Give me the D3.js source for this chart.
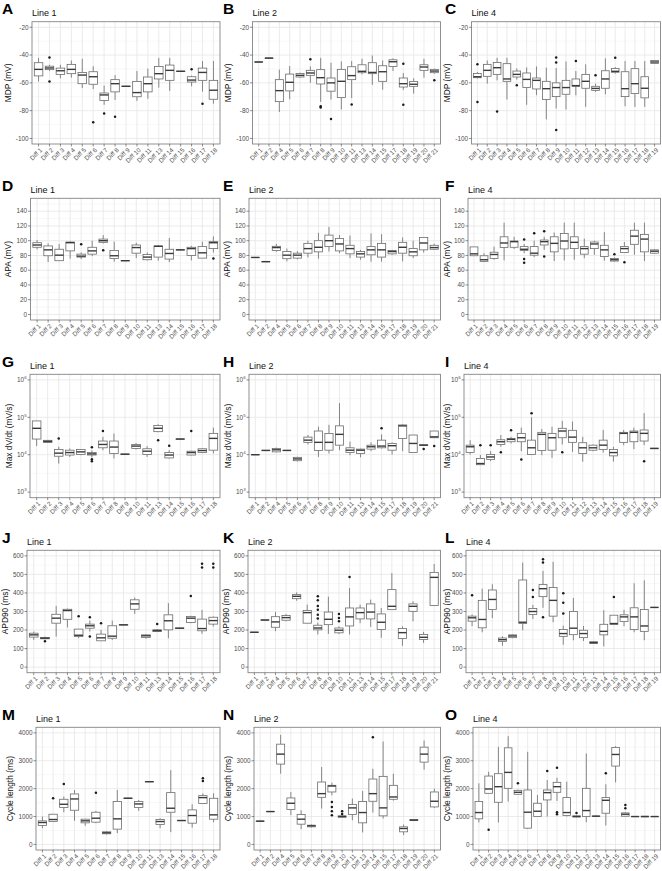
<!DOCTYPE html>
<html><head><meta charset="utf-8">
<script src="https://cdn.jsdelivr.net/npm/d3@7"></script>
<style>
body{margin:0;background:#fff}
svg{display:block;font-family:"Liberation Sans",Arial,Helvetica,sans-serif}
</style>
</head><body>
<svg id="chart" width="662" height="871"></svg>
<script>
// ---------------- categories ----------------
const catsLine1 = ["Diff 1","Diff 2","Diff 3","Diff 4","Diff 5","Diff 6","Diff 7","Diff 8","Diff 9","Diff 10","Diff 11","Diff 13","Diff 14","Diff 15","Diff 16","Diff 17","Diff 18"];
const catsLine2 = ["Diff 1","Diff 2","Diff 4","Diff 5","Diff 6","Diff 7","Diff 8","Diff 9","Diff 10","Diff 11","Diff 13","Diff 14","Diff 15","Diff 17","Diff 18","Diff 19","Diff 20","Diff 21"];
const catsLine4 = ["Diff 1","Diff 2","Diff 3","Diff 4","Diff 5","Diff 6","Diff 7","Diff 8","Diff 9","Diff 10","Diff 11","Diff 12","Diff 13","Diff 14","Diff 15","Diff 16","Diff 17","Diff 18","Diff 19"];

// ---------------- tick labels ----------------
const mdpTicks = [-100,-80,-60,-40,-20];
const apaTicks = [0,20,40,60,80,100,120,140];
const dvdtTicks = [1e3,1e4,1e5,1e6];
const apdTicks = [0,100,200,300,400,500,600];
const cycTicks = [0,1000,2000,3000,4000];

// ---------------- box stats: [low whisker, q1, median, q3, high whisker] ----------------
const mdpL1 = [[-59,-55,-50.3,-45.5,-42],[-51.5,-50.5,-49.3,-48,-47],[-56.7,-53.9,-51.3,-49.4,-47],[-56.3,-53.4,-50.3,-46.7,-43.9],[-63.7,-60.6,-54.4,-52.5,-42.7],[-64.4,-61,-55.6,-52,-48],[-75.8,-72.7,-68.7,-67.3,-62],[-72.3,-66.5,-60.6,-57.7,-54.4],[-62.8,-62.6,-62.5,-62.4,-62.2],[-73,-70,-67,-59,-51.5],[-71.5,-66.5,-60.6,-55.8,-49.8],[-63.4,-57.2,-53.4,-48.2,-42],[-65.8,-58.2,-51,-47.2,-42],[-51.9,-51.8,-51.7,-51.6,-51.5],[-62.5,-59.4,-58,-55.6,-54.8],[-66.3,-58.2,-52.5,-49.4,-44.3],[-75,-71.8,-65.3,-58.2,-44.3]];
const mdpL1Out = [[],[-41.7,-59],[],[],[],[-88.3],[-82],[-84.4],[],[],[],[],[],[],[-50.3],[-75],[]];

const mdpL2 = [[-45.2,-45.1,-45,-44.9,-44.8],[-42.4,-42.3,-42.2,-42.1,-42],[-81,-73.5,-65.6,-57.7,-50.5],[-71.8,-65.8,-59.6,-53.7,-47.9],[-56.3,-55.8,-54.6,-53.2,-52.7],[-60,-54.6,-52.9,-51,-48.2],[-73.7,-60.8,-56.3,-50.5,-42],[-72,-66,-60,-56.5,-45.5],[-79.2,-70.6,-58.9,-50.3,-44.6],[-71,-57.7,-54.8,-48.4,-44.3],[-53.9,-52.7,-51.7,-47,-42.7],[-61.5,-53.4,-52.5,-45.5,-40.3],[-64.9,-58.9,-52,-47.7,-43.9],[-51.5,-48.2,-44.8,-43.4,-42.4],[-65,-63,-60.6,-56.5,-53],[-67.7,-62.5,-61,-59,-56.7],[-56.3,-51,-48.6,-47,-42.7],[-53.4,-52.7,-51.5,-50.3,-49.8]];
const mdpL2Out = [[],[],[],[],[],[-43],[-76.8,-77.8],[-86],[],[-75.6],[],[],[],[],[-46.3,-75.8],[],[],[-58.2]];

const mdpL4 = [[-56.8,-56.3,-55.6,-53.2,-52.2],[-60.6,-55.3,-51,-46.7,-43.9],[-58.2,-53.9,-49.1,-45.3,-42],[-72,-58.9,-57.2,-46.2,-42],[-57.7,-55.8,-53.9,-51.5,-49.6],[-75.8,-63.4,-57.5,-52.9,-48.9],[-68.9,-64.4,-58.2,-56.5,-48.2],[-86.3,-72,-64.2,-58.9,-49.1],[-78.5,-69.9,-63.4,-60,-49.4],[-79.2,-68.2,-63.4,-58.2,-44.6],[-69,-62.5,-62,-57.2,-51.5],[-77.3,-63.9,-58.9,-53.9,-46.7],[-66.5,-65.4,-64,-62.5,-60.6],[-68.2,-63.9,-57.2,-51.3,-42.4],[-53.4,-52.4,-51.7,-49.6,-48.6],[-76.8,-69.9,-64.2,-52,-44.3],[-77.3,-67.7,-60.6,-49.8,-44.3],[-77.3,-70.8,-63.9,-55.6,-44.3],[-46.2,-46,-45,-43.9,-43.6]];
const mdpL4Out = [[-46.7,-73.7],[],[-80.6],[],[-61.8],[],[],[],[-41.7,-45.3,-94],[],[-44.3],[],[-54.6],[],[-42],[],[],[],[]];

const apaL1 = [[88.4,91.1,94.2,97.3,100.9],[71.1,79.6,87.6,92.9,96.4],[72.9,72.9,80.4,88.4,95.6],[75.6,86.2,97.3,98.2,99],[75.1,77.8,79.1,81.8,84],[79.1,81.8,86.2,91.1,100],[96.4,97.8,100,102.2,107.6],[71.6,76,79.6,86.7,98.7],[72.7,72.8,72.9,73,73.1],[76.4,83.1,90.7,94.2,97.3],[73.3,74.2,77.8,81.3,84],[72.9,77.8,92.4,92.9,94.2],[71.1,75.1,82.7,88.4,103.6],[87.4,87.5,87.6,87.7,87.8],[73.3,80,89.3,91.1,92.9],[76.4,76.4,83.6,92,98.7],[84,89.3,97.3,98.7,105.8]];
const apaL1Out = [[],[],[],[],[95.1],[],[87.1],[],[],[],[],[],[],[],[],[],[76]];

const apaL2 = [[77.1,77.2,77.3,77.4,77.5],[71.4,71.5,71.6,71.7,71.8],[84.9,86.7,90.7,92.4,95.6],[72,75.6,80.4,85.3,89.3],[74.7,76.4,80.4,83.1,85.8],[77.3,83.1,89.3,96.4,100],[75.6,84.9,91.1,100,110.7],[85.3,92,100,107.6,118.7],[83.1,86.2,95.6,103,107.6],[76.4,82.2,89.3,93.8,107],[74.2,77.8,82.2,85.3,87.6],[71.6,80.9,87.6,92,109.8],[71.6,77.8,87.6,96.4,108.9],[80.9,82.2,85.3,86.7,87.6],[72,83.1,91.1,97.8,104.4],[76.4,79.6,84.9,89.3,100],[84,87.6,96.9,104.4,104.4],[87.6,88.4,90.7,93.8,96]];
const apaL2Out = [[],[],[],[],[],[],[],[],[],[],[],[],[],[],[],[],[],[]];

const apaL4 = [[79.6,79.6,82.2,91.6,91.6],[71.1,72,74.2,79.6,83.1],[74.2,76,81.3,84.4,92],[73.3,90.7,96.9,105.3,124.4],[88.9,91.1,98.7,99.6,105.3],[83.1,86.7,88.4,92,95.6],[77.8,80.4,83.1,92,100],[87.6,94.2,98.7,100.9,105.3],[72.4,84.9,96.4,105.3,111],[73.3,88.9,99.6,109.8,124.4],[74.2,89.3,97.8,105.3,124.4],[76.4,81.8,89.3,92,102.7],[80.9,89.3,95.6,98.2,100],[72.9,78.7,87.6,93.8,111.6],[71.6,72.4,74.2,76,77.3],[84,84,89.3,92,98.2],[80.9,95.1,106.2,114.2,124.4],[72.4,84.9,102.2,108.4,124.4],[82.2,83.1,85.8,87.6,88.4]];
const apaL4Out = [[],[],[],[],[],[101.8,75.1,70.2],[110.2],[112.9,78.7],[],[],[],[],[],[],[81.8],[70.7],[],[],[]];

const dvdtL1 = [[17000,26200,50800,80000,80000],[21000,21300,22700,24200,24800],[5800,9100,11000,13800,16300],[8700,9800,11400,13200,14700],[9700,10100,11900,13800,14000],[8500,9800,10500,11400,13000],[13200,15300,18800,23200,30000],[7900,10800,16000,23200,37000],[10100,10200,10300,10400,10500],[13800,14700,17000,18800,20500],[8700,10100,12400,14400,17000],[40000,41300,50800,60000,65000],[7900,8200,9800,11400,13200],[25800,26000,26200,26400,26600],[9600,9800,11400,12400,12700],[11000,11400,12900,14400,14900],[10800,13200,27300,37200,53000]];
const dvdtL1Out = [[],[],[27300],[],[],[15800,7600,6700],[43000],[],[],[],[],[24500],[17300],[],[43000],[],[]];

const dvdtL2 = [[9900,9950,10000,10050,10100],[12800,12900,13000,13100,13200],[11500,11900,13500,14700,15500],[12700,12900,13000,13100,13300],[6600,6900,7700,8500,8800],[18800,21400,24500,29500,33600],[8700,13000,21400,43000,56000],[10800,13200,21400,37000,63000],[13200,18000,35000,59000,240000],[9700,11400,13200,15300,22300],[8500,10800,13200,14100,14500],[12400,14100,16300,18000,21400],[14700,15300,17000,24500,35000],[10100,13200,17400,20000,21400],[12400,27300,59000,62500,65000],[11400,11400,20000,33600,33600],[17200,17600,18000,18400,18800],[28400,28400,30000,43000,43000]];
const dvdtL2Out = [[],[],[],[],[],[],[],[],[],[],[],[],[50800],[],[],[],[14100],[17000]];

const dvdtL4 = [[10100,11400,16300,18000,24500],[5300,5400,5800,7900,9800],[6700,7400,8700,10100,12400],[16300,18800,22200,25100,33600],[20000,22200,25700,27300,30000],[12400,22200,28400,37200,53000],[9800,10100,15300,24500,100000],[9700,13000,35000,39600,48800],[8200,13200,28400,37200,56000],[18800,28400,43000,50800,80000],[11900,21400,29500,44900,77000],[6500,10800,15300,20900,30000],[12400,13200,15300,18000,18800],[11400,13800,18000,24500,45800],[6500,9300,11400,13800,16300],[18000,21400,37200,39600,45800],[14100,22200,39600,43000,53000],[18000,23200,37200,45800,129000],[14300,14500,14700,14900,15100]];
const dvdtL4Out = [[],[18000],[18000],[11700],[44900],[7400],[129000],[],[],[11700],[],[],[],[],[],[],[],[6700],[]];

const apdL1 = [[147,162,174,183,192],[150,153,156,160,165],[165,237,264,285,330],[214,258,305,312,316],[156,165,172,205,205],[192,210,223,232,251],[142,142,158,178,201],[147,156,167,223,251],[227,227.5,228,228.5,229],[287,312,341,363,375],[153,160,169,174,178],[189,192,197,201,205],[156,201,250,282,345],[209,209.5,210,210.5,211],[237,241,264,273,277],[180,196,208,259,309],[219,232,251,269,273]];
const apdL1Out = [[],[140],[],[],[275],[269,165],[237],[],[],[],[],[232],[],[],[384],[557,537],[557,537]];

const apdL2 = [[187,187.5,188,188.5,189],[253,253.5,254,254.5,255],[194,215,244,272,297],[247,253,267,278,287],[358,369,382,391,403],[237,237,294,305,337],[176,201,211,226,240],[179,229,258,297,380],[179,185,199,211,220],[176,222,271,319,427],[237,260,294,319,337],[217,260,297,341,364],[158,203,242,287,319],[310,310,328,418,507],[115,154,186,208,220],[247,301,328,341,355],[131,149,161,176,190],[332,332,484,511,556]];
const apdL2Out = [[],[],[],[],[],[],[382,360,330,310,283,262],[],[287,265,247],[486],[],[],[],[],[],[],[],[]];

const apdL4 = [[221,248,266,275,284],[188,212,257,360,423],[264,311,365,416,447],[116,139,148,157,166],[156,159,168,174,177],[199,235,242,470,564],[260,284,300,316,336],[320,380,423,445,519],[242,275,360,429,568],[121,166,181,203,224],[145,175,210,300,373],[141,159,181,199,222],[125,127,132,137,139],[112,174,193,231,307],[230,230,235,280,280],[221,246,271,282,309],[188,203,271,320,452],[145,193,222,311,468],[321,321.5,322,322.5,323]];
const apdL4Out = [[387],[],[],[],[],[],[416,378],[582,564,269],[],[398,347,289],[],[],[],[],[378],[],[],[],[]];

const cycL1 = [[583,679,786,845,1000],[821,821,893,1083,1083],[1155,1321,1440,1619,1714],[845,1226,1631,1810,1952],[667,774,845,905,917],[762,798,940,1155,1202],[357,381,417,452,476],[405,548,917,1536,1952],[1645,1650,1655,1660,1665],[1202,1321,1452,1536,1595],[2240,2245,2250,2255,2260],[583,714,821,893,940],[440,1155,1298,1857,2667],[847,852,857,862,867],[607,762,1036,1238,1440],[1452,1464,1679,1750,1833],[798,905,1060,1655,1833]];
const cycL1Out = [[],[1655],[2167],[],[],[1857],[],[],[],[],[],[],[],[],[],[2369,2274],[]];

const cycL2 = [[823,828,833,838,843],[1169,1174,1179,1184,1189],[2536,2881,3238,3595,3929],[1048,1250,1476,1667,1881],[548,726,905,1071,1226],[607,631,667,690,714],[1286,1690,1821,2238,2774],[1762,1881,2095,2119,2214],[964,976,1000,1024,1036],[869,1071,1310,1429,1643],[429,774,1143,1536,1917],[1143,1548,1821,2345,2714],[929,1024,1310,2440,3690],[1571,1619,1702,2119,2536],[333,452,571,631,714],[845,857,869,893,905],[2679,2952,3238,3488,3726],[1310,1345,1548,1881,2000]];
const cycL2Out = [[],[],[],[],[],[],[],[1524,1345,1190,1048],[1190,1095],[],[],[3845],[],[],[],[],[],[]];

const cycL4 = [[786,917,1143,1536,2190],[1833,1833,1988,2452,2607],[786,1512,2071,2536,3500],[1536,2012,2583,3464,3881],[1786,1798,1869,1940,1964],[560,583,1155,1952,3321],[1000,1000,1190,1476,1774],[1000,1595,1857,1952,2310],[1560,1869,2071,2226,2393],[1000,1036,1143,1679,2250],[976,988,1000,1024,1036],[798,1000,1214,2012,3262],[995,1005,1012,1018,1024],[679,1119,1583,1679,2155],[2226,2810,3226,3476,3524],[1000,1012,1083,1131,1155],[990,995,1000,1005,1010],[980,990,1000,1010,1020],[990,995,1000,1005,1010]];
const cycL4Out = [[],[524],[],[],[2190],[],[],[2631],[2750,1155,1083],[],[1131],[],[],[2548],[],[1417,1298],[],[],[]];

// ---------------- layout ----------------
const svg = d3.select("#chart");
const colX = [0, 221, 443];
const colRight = [220, 440.5, 660.5];
const rowTop = [21.7, 198.3, 374.3, 550.3, 727.3];
const rowBot = [144, 320, 497.7, 672.7, 850];
const panelLeft = [[32,252.5,471.5],[30.5,249,468],[30,249,464],[27,248,466],[36,254,473]];
const letters = ["A","B","C","D","E","F","G","H","I","J","K","L","M","N","O"];
const lineNames = ["Line 1","Line 2","Line 4"];
const catsByCol = [catsLine1, catsLine2, catsLine4];

const metrics = [
  {title:"MDP (mV)", log:false, dom:[-104,-16], ticks:mdpTicks, minor:[-90,-70,-50,-30],
   data:[mdpL1,mdpL2,mdpL4], out:[mdpL1Out,mdpL2Out,mdpL4Out]},
  {title:"APA (mV)", log:false, dom:[-7.5,157.5], ticks:apaTicks, minor:[10,30,50,70,90,110,130,150],
   data:[apaL1,apaL2,apaL4], out:[apaL1Out,apaL2Out,apaL4Out]},
  {title:"Max dV/dt (mV/s)", log:true, dom:[Math.pow(10,2.85),Math.pow(10,6.15)], ticks:dvdtTicks,
   minor:[Math.pow(10,3.5),Math.pow(10,4.5),Math.pow(10,5.5)],
   data:[dvdtL1,dvdtL2,dvdtL4], out:[dvdtL1Out,dvdtL2Out,dvdtL4Out]},
  {title:"APD90 (ms)", log:false, dom:[-30,630], ticks:apdTicks, minor:[50,150,250,350,450,550],
   data:[apdL1,apdL2,apdL4], out:[apdL1Out,apdL2Out,apdL4Out]},
  {title:"Cycle length (ms)", log:false, dom:[-200,4200], ticks:cycTicks, minor:[500,1500,2500,3500],
   data:[cycL1,cycL2,cycL4], out:[cycL1Out,cycL2Out,cycL4Out]}
];

const gridMajor = "#e6e6e6", gridMinor = "#f1f1f1";
const boxStroke = "#6b6b6b";
const titleSize = 8.4;

metrics.forEach((m, r) => {
  for (let c = 0; c < 3; c++) {
    const left = panelLeft[r][c], right = colRight[c];
    const top = rowTop[r], bot = rowBot[r];
    const cats = catsByCol[c];
    const g = svg.append("g");

    const x = d3.scalePoint().domain(cats).range([left, right]).padding(0.6);
    const y = (m.log ? d3.scaleLog() : d3.scaleLinear()).domain(m.dom).range([bot, top]);

    // panel letter
    g.append("text").attr("x", colX[c] + 2).attr("y", top - 7.6)
      .attr("font-size", 15.5).attr("font-weight", "bold").attr("fill", "#000")
      .text(letters[r*3 + c]);
    // title
    g.append("text").attr("x", left).attr("y", top - 5.5)
      .attr("font-size", 9).attr("fill", "#111").text(lineNames[c]);

    // grid
    g.append("g").selectAll("line").data(m.minor).join("line")
      .attr("x1", left).attr("x2", right).attr("y1", d => y(d)).attr("y2", d => y(d))
      .attr("stroke", gridMinor).attr("stroke-width", 0.5);
    g.append("g").selectAll("line").data(m.ticks).join("line")
      .attr("x1", left).attr("x2", right).attr("y1", d => y(d)).attr("y2", d => y(d))
      .attr("stroke", gridMajor).attr("stroke-width", 0.8);
    g.append("g").selectAll("line").data(cats).join("line")
      .attr("x1", d => x(d)).attr("x2", d => x(d)).attr("y1", top).attr("y2", bot)
      .attr("stroke", gridMajor).attr("stroke-width", 0.8);

    // boxes
    const bw = x.step() * 0.78;
    const stats = m.data[c], outs = m.out[c];
    const bg = g.append("g");
    cats.forEach((cat, i) => {
      const s = stats[i];
      const cx = x(cat);
      bg.append("line").attr("x1", cx).attr("x2", cx).attr("y1", y(s[4])).attr("y2", y(s[3]))
        .attr("stroke", boxStroke).attr("stroke-width", 0.8);
      bg.append("line").attr("x1", cx).attr("x2", cx).attr("y1", y(s[1])).attr("y2", y(s[0]))
        .attr("stroke", boxStroke).attr("stroke-width", 0.8);
      bg.append("rect").attr("x", cx - bw/2).attr("y", y(s[3]))
        .attr("width", bw).attr("height", Math.max(0, y(s[1]) - y(s[3])))
        .attr("fill", "#fff").attr("stroke", boxStroke).attr("stroke-width", 0.8);
      bg.append("line").attr("x1", cx - bw/2).attr("x2", cx + bw/2)
        .attr("y1", y(s[2])).attr("y2", y(s[2]))
        .attr("stroke", "#3a3a3a").attr("stroke-width", 1.4);
      bg.selectAll(null).data(outs[i]).join("circle")
        .attr("cx", cx).attr("cy", d => y(d)).attr("r", 1.25).attr("fill", "#1a1a1a");
    });

    // border
    g.append("rect").attr("x", left).attr("y", top).attr("width", right - left).attr("height", bot - top)
      .attr("fill", "none").attr("stroke", "#858585").attr("stroke-width", 0.9);

    // y axis ticks + labels
    const yt = g.append("g").selectAll("g").data(m.ticks).join("g")
      .attr("transform", d => `translate(0,${y(d)})`);
    yt.append("line").attr("x1", left - 2.5).attr("x2", left).attr("stroke", "#444").attr("stroke-width", 0.6);
    const ylab = yt.append("text").attr("x", left - 3.4).attr("dy", "0.35em").attr("text-anchor", "end")
      .attr("font-size", 6.4).attr("fill", "#4d4d4d");
    if (m.log) {
      ylab.each(function(d) {
        const t = d3.select(this);
        t.append("tspan").text("10");
        t.append("tspan").attr("dy", -3).attr("font-size", 4.4).text(Math.round(Math.log10(d)));
      });
    } else {
      ylab.text(d => d);
    }
    let minLabX = left;
    ylab.each(function() { const b = this.getBBox(); minLabX = Math.min(minLabX, b.x); });

    // x axis ticks + labels
    const xt = g.append("g").selectAll("g").data(cats).join("g")
      .attr("transform", d => `translate(${x(d)},${bot})`);
    xt.append("line").attr("y1", 0).attr("y2", 2.5).attr("stroke", "#444").attr("stroke-width", 0.6);
    xt.append("text").attr("transform", "translate(1,3.2) rotate(-45)")
      .attr("text-anchor", "end").attr("dy", "0.72em")
      .attr("font-size", 6.3).attr("fill", "#4d4d4d").text(d => d);

    // y axis title, placed just left of the tick labels
    const tx = Math.max(colX[c] + 7, minLabX - 3.2 - 0.21 * titleSize);
    g.append("text").attr("transform", `translate(${tx},${(top + bot)/2}) rotate(-90)`)
      .attr("text-anchor", "middle").attr("font-size", titleSize).attr("fill", "#111").text(m.title);
  }
});
</script>
</body></html>
